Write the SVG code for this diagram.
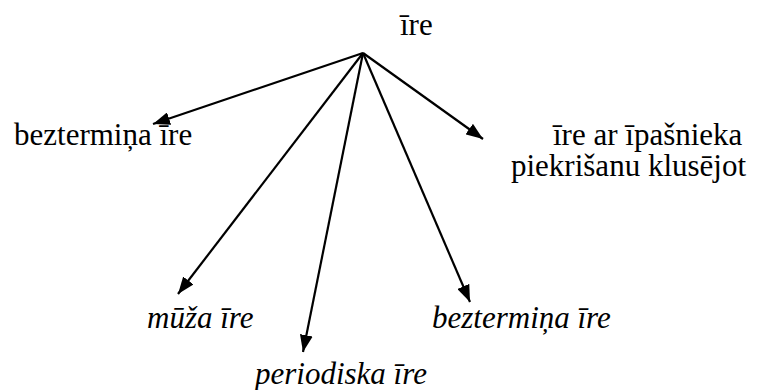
<svg xmlns="http://www.w3.org/2000/svg" width="775" height="390" viewBox="0 0 775 390">
<defs>
<marker id="a" viewBox="0 0 17 13" refX="17" refY="6.5" markerWidth="17" markerHeight="13" markerUnits="userSpaceOnUse" orient="auto">
<path d="M0,0 L17,6.5 L0,13 z" fill="#000"/>
</marker>
</defs>
<rect width="775" height="390" fill="#fff"/>
<g id="connectors" stroke="#000" stroke-width="2.2" marker-end="url(#a)">
<line x1="363" y1="53" x2="153" y2="124"/>
<line x1="363" y1="53" x2="178" y2="294"/>
<line x1="363" y1="53" x2="303" y2="352"/>
<line x1="363" y1="53" x2="470" y2="302"/>
<line x1="363" y1="53" x2="483" y2="139"/>
</g>
<g id="root"><text x="400" y="35" font-family="Liberation Serif" font-size="31">īre</text></g>
<g id="n1"><text x="14" y="145" font-family="Liberation Serif" font-size="31">beztermiņa īre</text></g>
<g id="n2"><text x="553" y="145" font-family="Liberation Serif" font-size="31">īre ar īpašnieka</text><text x="511" y="176" font-family="Liberation Serif" font-size="31">piekrišanu klusējot</text></g>
<g id="n3"><text x="147" y="328" font-family="Liberation Serif" font-size="31" font-style="italic">mūža īre</text></g>
<g id="n4"><text x="255" y="384" font-family="Liberation Serif" font-size="31" font-style="italic">periodiska īre</text></g>
<g id="n5"><text x="432" y="328" font-family="Liberation Serif" font-size="31" font-style="italic">beztermiņa īre</text></g>
</svg>
